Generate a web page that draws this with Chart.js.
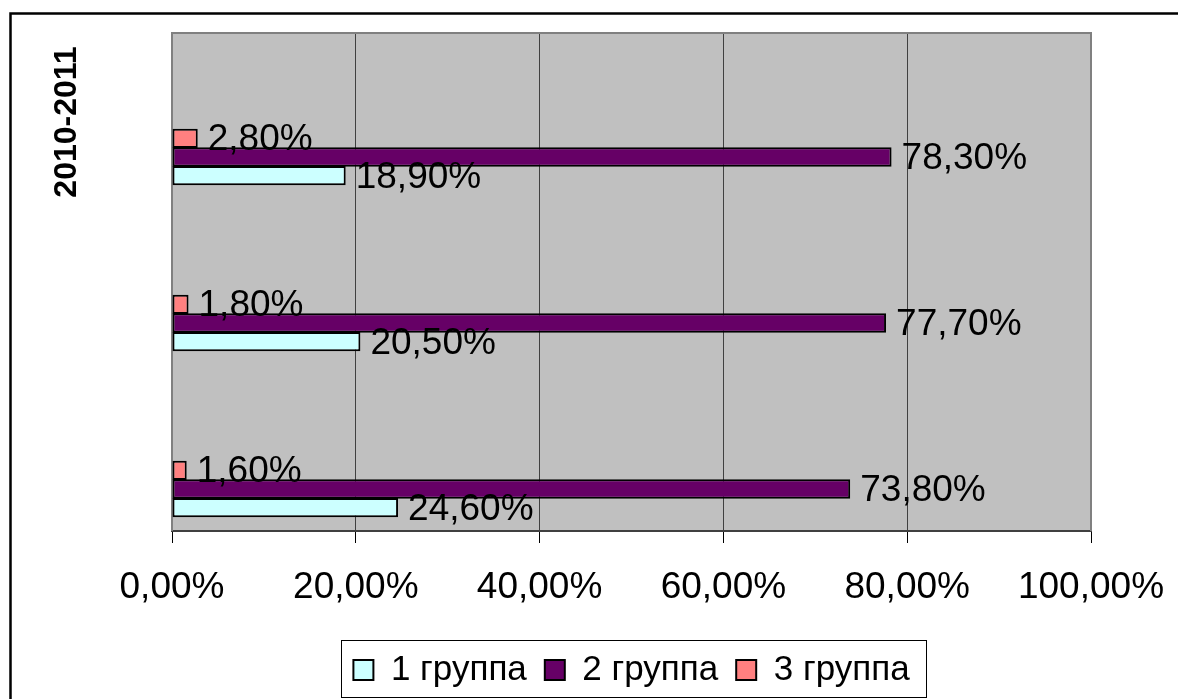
<!DOCTYPE html>
<html>
<head>
<meta charset="utf-8">
<script src="https://cdn.jsdelivr.net/npm/chart.js@4"></script>
<style>
  html, body { margin: 0; padding: 0; background: #fff; }
</style>
</head>
<body>
<canvas id="grafico" width="1178" height="699"></canvas>
<script>
// Dados do gráfico (categorias de cima para baixo)
const categorias = ['2010-2011', '', ''];
const grupo1 = [18.9, 20.5, 24.6];
const grupo2 = [78.3, 77.7, 73.8];
const grupo3 = [2.8, 1.8, 1.6];
const nomesSeries = ['1 группа', '2 группа', '3 группа'];
const coresSeries = ['#CCFFFF', '#660066', '#FF8080'];
const ticksX = [0, 20, 40, 60, 80, 100];

const fonte = '"Liberation Sans", Arial, sans-serif';

function formatar(v) {
  return v.toFixed(2).replace('.', ',') + '%';
}

function pontos(valores) {
  return valores.map((v, i) => ({ x: v, y: i }));
}

// Fundo cinza e bordas
const fundoPlot = {
  id: 'fundoPlot',
  beforeDraw(chart) {
    const ctx = chart.ctx, a = chart.chartArea;
    ctx.save();
    ctx.fillStyle = '#fff';
    ctx.fillRect(0, 0, chart.width, chart.height);
    ctx.strokeStyle = '#000';
    ctx.lineWidth = 2.5;
    ctx.strokeRect(10.5, 13.5, chart.width + 20, chart.height + 20);
    ctx.fillStyle = '#C0C0C0';
    ctx.fillRect(a.left, a.top, a.right - a.left, a.bottom - a.top);
    ctx.restore();
  },
  beforeDatasetsDraw(chart) {
    const ctx = chart.ctx, a = chart.chartArea;
    ctx.save();
    ctx.strokeStyle = '#808080';
    ctx.lineWidth = 2;
    ctx.beginPath();
    ctx.moveTo(a.left, a.bottom);
    ctx.lineTo(a.left, a.top);
    ctx.lineTo(a.right, a.top);
    ctx.lineTo(a.right, a.bottom);
    ctx.stroke();
    ctx.restore();
  }
};

// Rótulos de valor ao lado das barras
const rotulos = {
  id: 'rotulos',
  afterDatasetsDraw(chart) {
    const ctx = chart.ctx;
    ctx.save();
    ctx.font = '37px ' + fonte;
    ctx.fillStyle = '#000';
    ctx.textAlign = 'left';
    ctx.textBaseline = 'alphabetic';
    chart.data.datasets.forEach((ds, i) => {
      chart.getDatasetMeta(i).data.forEach((el, j) => {
        ctx.fillText(formatar(ds.data[j].x), el.x + 10, el.y + 12);
      });
    });
    ctx.restore();
  }
};

// Rótulo da categoria (texto vertical) e moldura da legenda
const extras = {
  id: 'extras',
  afterDraw(chart) {
    const ctx = chart.ctx, y = chart.scales.y;
    ctx.save();
    ctx.font = 'bold 32px ' + fonte;
    ctx.fillStyle = '#000';
    ctx.textAlign = 'center';
    ctx.textBaseline = 'middle';
    categorias.forEach((c, i) => {
      if (!c) return;
      ctx.save();
      ctx.translate(67, y.getPixelForValue(i) - 35);
      ctx.rotate(-Math.PI / 2);
      ctx.fillText(c, 0, 0);
      ctx.restore();
    });

    const caixas = chart.legend.legendHitBoxes;
    let esq = Infinity, dir = -Infinity, meio = Infinity;
    caixas.forEach(b => {
      esq = Math.min(esq, b.left);
      dir = Math.max(dir, b.left + b.width);
      meio = Math.min(meio, b.top + b.height / 2);
    });
    ctx.strokeStyle = '#000';
    ctx.lineWidth = 1;
    ctx.strokeRect(Math.round(esq - 12) + 0.5, Math.round(meio - 30) + 0.5,
      Math.round(dir - esq + 29), 57);
    ctx.restore();
  }
};

const ctx1 = document.getElementById('grafico').getContext('2d');
new Chart(ctx1, {
  type: 'bar',
  data: {
    datasets: [
      { label: nomesSeries[2], data: pontos(grupo3), backgroundColor: coresSeries[2] },
      { label: nomesSeries[1], data: pontos(grupo2), backgroundColor: coresSeries[1] },
      { label: nomesSeries[0], data: pontos(grupo1), backgroundColor: coresSeries[0] }
    ].map(d => Object.assign(d, {
      borderColor: '#000',
      borderWidth: 2,
      borderSkipped: false,
      categoryPercentage: 0.337,
      barPercentage: 1.04
    }))
  },
  options: {
    responsive: false,
    animation: false,
    indexAxis: 'y',
    layout: { padding: { left: 172, right: 87, top: 33, bottom: 1.5 } },
    scales: {
      y: {
        type: 'linear',
        display: false,
        reverse: true,
        offset: false,
        min: -0.747,
        max: 2.253,
        afterBuildTicks: s => { s.ticks = categorias.map((c, i) => ({ value: i })); },
        grid: { offset: false }
      },
      x: {
        type: 'linear',
        min: 0,
        max: 100,
        afterBuildTicks: s => { s.ticks = ticksX.map(v => ({ value: v })); },
        afterFit: s => {
          s.height = 103.5;
          s.paddingLeft = 0;
          s.paddingRight = 0;
        },
        grid: { color: '#404040', lineWidth: 1, tickLength: 12, tickColor: '#000' },
        border: { color: '#404040', width: 2 },
        ticks: {
          color: '#000',
          font: { family: fonte, size: 37 },
          padding: 23,
          maxRotation: 0,
          autoSkip: false,
          callback: v => formatar(v)
        }
      }
    },
    plugins: {
      tooltip: { enabled: false },
      legend: {
        position: 'bottom',
        reverse: true,
        labels: {
          color: '#000',
          font: { family: fonte, size: 35 },
          boxWidth: 20,
          boxHeight: 20,
          padding: 18
        }
      }
    }
  },
  plugins: [fundoPlot, rotulos, extras]
});
</script>
</body>
</html>
